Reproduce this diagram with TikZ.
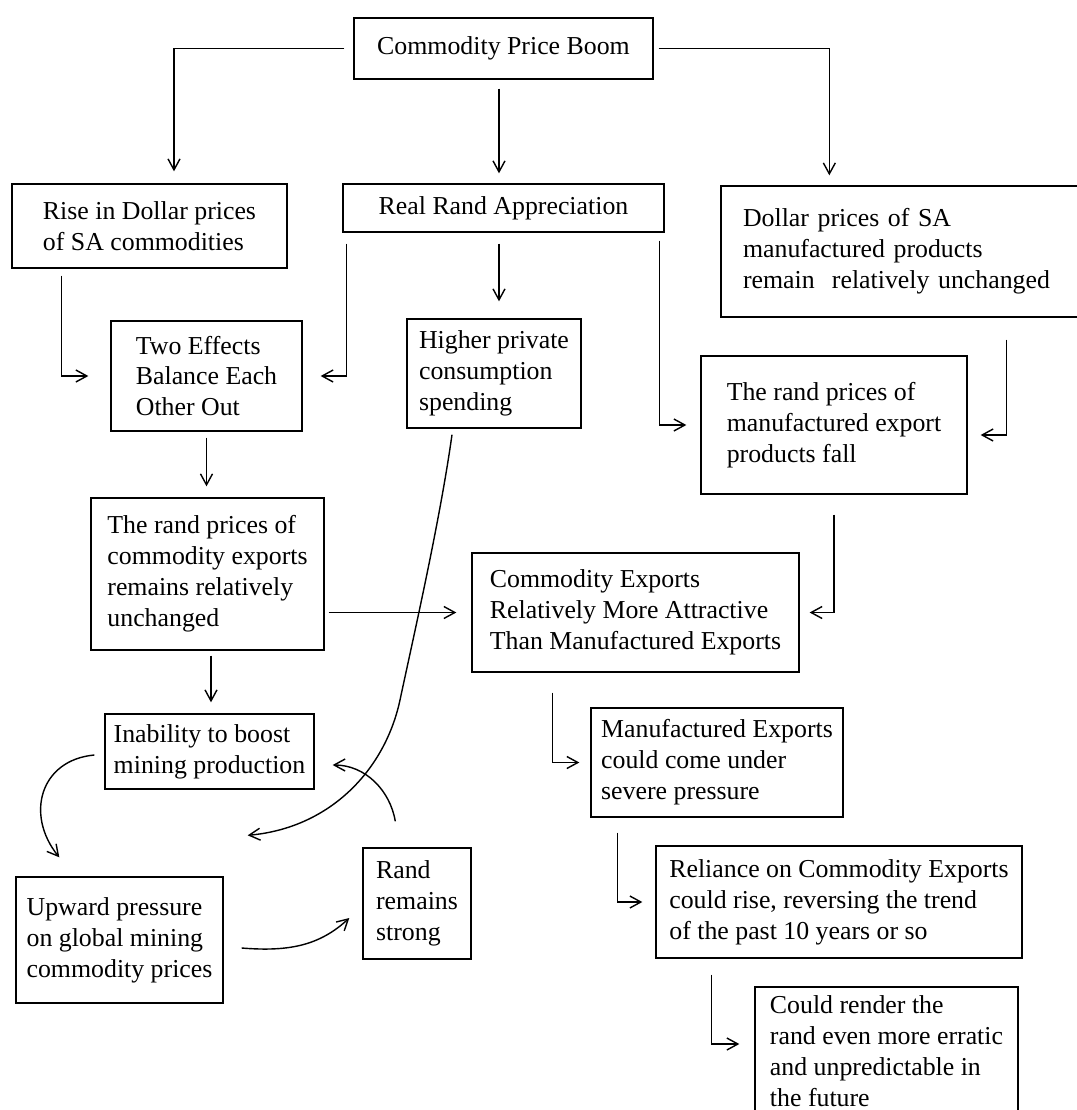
\documentclass[tikz,border=0pt]{standalone}
\usepackage{fontspec}
\setmainfont{Liberation Serif}
\usetikzlibrary{arrows.meta, calc}

\begin{document}
\begin{tikzpicture}[>={Straight Barb[length=2.2mm, width=2.4mm]}, x=0.02cm, y=-0.02cm, line width=0.8pt]
                \tikzset{box/.style={draw, align=left, inner sep=0pt, font=\fontsize{14.7}{17.6}\selectfont}};
                \useasboundingbox (0, 0) rectangle (1077, 1110);
                \node[box, minimum width=5.98cm, minimum height=1.22cm] (boom) at (503.5, 48.5) {Commodity Price Boom};
                \node[box, minimum width=5.5cm, minimum height=1.68cm] (rise) at (149.5, 226) {Rise in Dollar prices\\of SA commodities};
                \node[box, minimum width=6.42cm, minimum height=0.96cm] (rra) at (503.5, 208) {Real Rand Appreciation};
                \node[box, minimum width=7.28cm, minimum height=2.62cm, text width=6.4cm, inner xsep=0.44cm] (dollarmanu) at (903, 251.5) {Dollar prices of SA\\manufactured products\\remain\ \ relatively unchanged};
                \node[box, minimum width=3.82cm, minimum height=2.2cm] (twoeff) at (206.5, 376) {Two Effects\\Balance Each\\Other Out};
                \node[box, minimum width=3.48cm, minimum height=2.18cm] (higher) at (494, 373.5) {Higher private\\consumption\\spending};
                \node[box, minimum width=5.32cm, minimum height=2.76cm] (randmanu) at (834, 425) {The rand prices of\\manufactured export\\products fall};
                \node[box, minimum width=4.66cm, minimum height=3.04cm] (randcomm) at (207.5, 574) {The rand prices of\\commodity exports\\remains relatively\\unchanged};
                \node[box, minimum width=6.54cm, minimum height=2.38cm] (commexp) at (635.5, 612.5) {Commodity Exports\\Relatively More Attractive\\Than Manufactured Exports};
                \node[box, minimum width=4.18cm, minimum height=1.5cm] (inability) at (209.5, 751.5) {Inability to boost\\mining production};
                \node[box, minimum width=5.04cm, minimum height=2.18cm] (manuf) at (717, 762.5) {Manufactured Exports\\could come under\\severe pressure};
                \node[box, minimum width=4.14cm, minimum height=2.52cm] (upward) at (119.5, 940) {Upward pressure\\on global mining\\commodity prices};
                \node[box, minimum width=2.16cm, minimum height=2.22cm] (rand) at (417, 903.5) {Rand\\remains\\strong};
                \node[box, minimum width=7.32cm, minimum height=2.24cm] (reliance) at (839, 902) {Reliance on Commodity Exports\\could rise, reversing the trend\\of the past 10 years or so};
                \node[box, minimum width=5.26cm, minimum height=2.56cm] (render) at (886.5, 1051) {Could render the\\rand even more erratic\\and unpredictable in\\the future};
                % from the boom
                \draw[->, shorten <=0.18cm, shorten >=0.24cm] (boom.west) -| ($(rise.north)+(24.5, 0)$);
                \draw[->, shorten <=0.18cm, shorten >=0.2cm] ($(boom.south)+(-4.5, 0)$) -- ($(rra.north)+(-4.5, 0)$);
                \draw[->, shorten <=0.1cm, shorten >=0.2cm] (boom.east) -| ($(dollarmanu.north west)+(109, 0)$);
                % second row
                \draw[->, shorten <=0.22cm, shorten >=0.34cm] ($(rra.south)+(-4.5, 0)$) -- ($(rra.south |- higher.north)+(-4.5, 0)$);
                \draw[->, shorten <=0.14cm, shorten >=0.44cm] ($(rise.south west)+(50, 0)$) |- (twoeff.west);
                \draw[->, shorten <=0.22cm, shorten >=0.36cm] ($(rra.south west)+(4, 0)$) |- (twoeff.east);
                \draw[->, shorten <=0.16cm, shorten >=0.28cm] ($(rra.south east)+(-5, 0)$) |- (randmanu.west);
                \draw[->, shorten <=0.44cm, shorten >=0.26cm] ($(dollarmanu.south west)+(286, 0)$) |- ($(randmanu.east)+(0, 10)$);
                \draw[->, shorten <=0.4cm, shorten >=0.2cm] (randmanu.south) |- (commexp.east);
                \draw[->, shorten <=0.12cm, shorten >=0.22cm] (twoeff.south) -- (twoeff.south |- randcomm.north);
                \draw[->, shorten <=0.08cm, shorten >=0.3cm] (randcomm.east |- commexp.west) -- (commexp.west);
                \draw[->, shorten <=0.1cm, shorten >=0.22cm] ($(randcomm.south)+(3.5, 0)$) -- ($(randcomm.south |- inability.north)+(3.5, 0)$);
                % right hand chain
                \draw[->, shorten <=0.4cm, shorten >=0.22cm] ($(commexp.south west)+(81, 0)$) |- (manuf.west);
                \draw[->, shorten <=0.3cm, shorten >=0.26cm] ($(manuf.south west)+(27, 0)$) |- (reliance.west);
                \draw[->, shorten <=0.32cm, shorten >=0.3cm] ($(reliance.south west)+(56, 0)$) |- ($(render.west)+(0, -7)$);
                % the loop
                \draw[->] ($(inability.west)+(-10, 3.5)$) .. controls (40, 760) and (25, 815) .. ($(upward.north west)+(44, -19)$);
                \draw[->] ($(upward.east)+(18, 8)$) .. controls (290, 952) and (320, 945) .. ($(rand.west)+(-13, 14.5)$);
                \draw[->] ($(rand.north west)+(33, -26)$) .. controls (390, 790) and (365, 765) .. ($(inability.east)+(18, 13.5)$);
                \draw[->] ($(higher.south)+(-42, 6)$) .. controls (440, 520) and (415, 630) .. (400, 700) .. controls (385, 770) and (330, 828) .. ($(upward.north east)+(24, -41)$);
            \end{tikzpicture}
\end{document}
